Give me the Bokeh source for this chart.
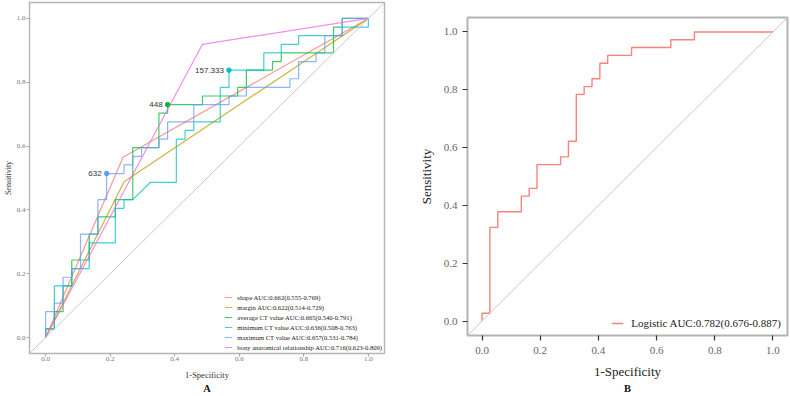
from bokeh.plotting import figure
from bokeh.layouts import row, column
from bokeh.models import Range1d, Slope, Legend, LegendItem, LinearAxis, ColumnDataSource
from bokeh.embed import file_html
from bokeh.resources import INLINE
from bokeh.core.properties import value

# ---------------- Panel A: ROC curves of single CT features ----------------
shape_fpr = [0.0, 0.240, 1.0]
shape_tpr = [0.0, 0.565, 1.0]

margin_fpr = [0.0, 0.243, 1.0]
margin_tpr = [0.0, 0.488, 1.0]

avg_fpr = [0.0, 0.0, 0.027, 0.027, 0.054, 0.054, 0.081, 0.081, 0.135, 0.135,
           0.162, 0.162, 0.216, 0.216, 0.270, 0.270, 0.351, 0.351, 0.378, 0.378,
           0.486, 0.486, 0.595, 0.595, 0.622, 0.622, 0.703, 0.703, 0.730, 0.730,
           0.892, 0.892, 0.919, 0.919, 1.0]
avg_tpr = [0.0, 0.027, 0.027, 0.081, 0.081, 0.162, 0.162, 0.243, 0.243, 0.324,
           0.324, 0.378, 0.378, 0.432, 0.432, 0.595, 0.595, 0.703, 0.703, 0.730,
           0.730, 0.757, 0.757, 0.784, 0.784, 0.838, 0.838, 0.865, 0.865, 0.892,
           0.892, 0.973, 0.973, 1.0, 1.0]

min_fpr = [0.0, 0.0, 0.027, 0.027, 0.081, 0.081, 0.135, 0.135, 0.216, 0.216,
           0.243, 0.243, 0.270, 0.324, 0.405, 0.405, 0.432, 0.432, 0.459, 0.459,
           0.541, 0.541, 0.568, 0.568, 0.676, 0.676, 0.730, 0.730, 0.784, 0.784,
           0.919, 0.919, 1.0, 1.0]
min_tpr = [0.0, 0.027, 0.027, 0.162, 0.162, 0.216, 0.216, 0.297, 0.297, 0.405,
           0.405, 0.432, 0.432, 0.486, 0.486, 0.622, 0.622, 0.649, 0.649, 0.676,
           0.676, 0.784, 0.784, 0.838, 0.838, 0.892, 0.892, 0.919, 0.919, 0.946,
           0.946, 0.973, 0.973, 1.0]

max_fpr = [0.0, 0.0, 0.027, 0.027, 0.054, 0.054, 0.081, 0.081, 0.108, 0.108,
           0.162, 0.162, 0.189, 0.189, 0.243, 0.243, 0.270, 0.270, 0.297, 0.297,
           0.351, 0.351, 0.378, 0.378, 0.459, 0.459, 0.568, 0.568, 0.622, 0.622,
           0.757, 0.757, 0.784, 0.784, 0.838, 0.838, 0.865, 0.865, 0.919, 0.919, 1.0]
max_tpr = [0.0, 0.081, 0.081, 0.108, 0.108, 0.189, 0.189, 0.216, 0.216, 0.324,
           0.324, 0.432, 0.432, 0.514, 0.514, 0.541, 0.541, 0.568, 0.568, 0.595,
           0.595, 0.622, 0.622, 0.676, 0.676, 0.730, 0.730, 0.757, 0.757, 0.784,
           0.784, 0.811, 0.811, 0.865, 0.865, 0.892, 0.892, 0.946, 0.946, 1.0, 1.0]

bony_fpr = [0.0, 0.486, 1.0]
bony_tpr = [0.0, 0.919, 1.0]

series_labels = [
    "shape AUC:0.662(0.555-0.769)",
    "margin AUC:0.622(0.514-0.729)",
    "average CT value AUC:0.665(0.540-0.791)",
    "minimum CT value AUC:0.636(0.508-0.763)",
    "maximum CT value AUC:0.657(0.531-0.784)",
    "bony anatomical relationship AUC:0.716(0.623-0.809)",
]
series_colors = ["#F8766D", "#B79F00", "#00BA38", "#00BFC4", "#619CFF", "#F564E3"]

# best cut-off points (max CT, average CT, minimum CT)
cut_fpr = [0.189, 0.378, 0.568]
cut_tpr = [0.514, 0.730, 0.838]
cut_text = ["632", "448", "157.333"]
cut_colors = ["#619CFF", "#00BA38", "#00BFC4"]

# ---------------- Panel B: combined logistic model ----------------
logit_fpr = [0.0, 0.0, 0.027, 0.027, 0.054, 0.054, 0.135, 0.135, 0.162, 0.162,
             0.189, 0.189, 0.270, 0.270, 0.297, 0.297, 0.324, 0.324, 0.351, 0.351,
             0.378, 0.378, 0.405, 0.405, 0.432, 0.432, 0.514, 0.514, 0.649, 0.649,
             0.730, 0.730, 1.0]
logit_tpr = [0.0, 0.027, 0.027, 0.324, 0.324, 0.378, 0.378, 0.432, 0.432, 0.459,
             0.459, 0.541, 0.541, 0.568, 0.568, 0.622, 0.622, 0.784, 0.784, 0.811,
             0.811, 0.838, 0.838, 0.892, 0.892, 0.919, 0.919, 0.946, 0.946, 0.973,
             0.973, 1.0, 1.0]
logit_label = "Logistic AUC:0.782(0.676-0.887)"
logit_color = "#F8766D"

ticks = [0.0, 0.2, 0.4, 0.6, 0.8, 1.0]
SERIF = "Liberation Serif"


def style_axis(ax, tick_size, tick_color, tick_out, tick_line, label_size,
               label_std, axis_label_std, axis_label_color, label_lh=1.0):
    ax.ticker = ticks
    ax.major_label_overrides = {t: f"{t:.1f}" for t in ticks}
    ax.axis_line_color = None
    ax.minor_tick_line_color = None
    ax.major_tick_in = 0
    ax.major_tick_out = tick_out
    ax.major_tick_line_color = tick_line
    ax.major_tick_line_width = 1.2
    ax.major_label_text_font = SERIF
    ax.major_label_text_font_size = tick_size
    ax.major_label_text_color = tick_color
    ax.major_label_standoff = label_std
    ax.axis_label_text_font = SERIF
    ax.axis_label_text_font_size = label_size
    ax.axis_label_text_font_style = "normal"
    ax.axis_label_text_color = axis_label_color
    ax.axis_label_standoff = axis_label_std
    ax.axis_label_text_line_height = label_lh


def panel_tag_axis(text, standoff):
    # tick-less axis whose only content is the bold panel letter under the x title
    return LinearAxis(ticker=[], axis_label=text, axis_line_color=None,
                      major_tick_in=0, major_tick_out=0, minor_tick_line_color=None,
                      major_label_standoff=0, major_label_text_font_size="0px",
                      axis_label_standoff=standoff, axis_label_text_font=SERIF,
                      axis_label_text_font_size="10.5px",
                      axis_label_text_font_style="bold",
                      axis_label_text_color="#111111",
                      axis_label_text_line_height=0.5)


# ---------- figure A ----------
pA = figure(width=400, height=396, title=None,
            x_range=Range1d(-0.05, 1.05), y_range=Range1d(-0.05, 1.05),
            output_backend="svg", toolbar_location=None,
            min_border_left=29, min_border_right=16, min_border_top=2,
            min_border_bottom=38,
            x_axis_label="1-Specificity", y_axis_label="Sensitivity")
pA.outline_line_color = "#b4b4b4"
pA.outline_line_width = 1.4
pA.xgrid.grid_line_color = None
pA.ygrid.grid_line_color = None
style_axis(pA.xaxis[0], "7px", "#777777", 3, "#aaaaaa", "8.5px", 0, 6, "#333333", 0.9)
style_axis(pA.yaxis[0], "7px", "#777777", 3, "#aaaaaa", "8px", 1, 1, "#333333", 0.9)

pA.add_layout(Slope(gradient=1, y_intercept=0, line_color="#c8c8c8", line_width=1))

curves_a = [(shape_fpr, shape_tpr), (margin_fpr, margin_tpr), (avg_fpr, avg_tpr),
            (min_fpr, min_tpr), (max_fpr, max_tpr), (bony_fpr, bony_tpr)]
items = []
for (fx, fy), lab, col in zip(curves_a, series_labels, series_colors):
    r = pA.line(fx, fy, line_color=col, line_width=1.2, line_alpha=0.75)
    items.append(LegendItem(label=lab, renderers=[r]))

cut_src = ColumnDataSource(dict(x=cut_fpr, y=cut_tpr, t=cut_text, c=cut_colors))
pA.scatter("x", "y", source=cut_src, size=4.5, fill_color="c", line_color="c")
pA.text("x", "y", text="t", source=cut_src, x_offset=-5, text_align="right",
        text_baseline="middle", text_font=value("Liberation Sans"),
        text_font_size="8px", text_color="#333333")

legA = Legend(items=items, location="bottom_right", margin=2, padding=2,
              spacing=2, label_height=8, glyph_height=6, glyph_width=8,
              label_standoff=5, label_text_font=SERIF, label_text_font_size="6.6px",
              label_text_color="#222222", border_line_color=None,
              background_fill_alpha=0)
pA.add_layout(legA)
pA.add_layout(panel_tag_axis("A", 0), "below")

# ---------- figure B ----------
pB = figure(width=390, height=396, title=None,
            x_range=Range1d(-0.05, 1.05), y_range=Range1d(-0.05, 1.05),
            output_backend="svg", toolbar_location=None,
            min_border_left=67, min_border_right=3, min_border_top=17,
            min_border_bottom=56,
            x_axis_label="1-Specificity", y_axis_label="Sensitivity")
pB.outline_line_color = "#b4b4b4"
pB.outline_line_width = 2
pB.xgrid.grid_line_color = None
pB.ygrid.grid_line_color = None
style_axis(pB.xaxis[0], "11px", "#666666", 5, "#333333", "13px", 6, 7, "#222222", 1.0)
style_axis(pB.yaxis[0], "11px", "#666666", 5, "#333333", "13px", 5, 7, "#222222", 1.0)

pB.add_layout(Slope(gradient=1, y_intercept=0, line_color="#c8c8c8", line_width=1))
rB = pB.line(logit_fpr, logit_tpr, line_color=logit_color, line_width=1.4, line_alpha=0.9)

legB = Legend(items=[LegendItem(label=logit_label, renderers=[rB])],
              location="bottom_right", margin=6, padding=2, spacing=0,
              label_height=12, glyph_height=10, glyph_width=12, label_standoff=8,
              label_text_font=SERIF, label_text_font_size="11px",
              label_text_color="#222222", border_line_color=None,
              background_fill_alpha=0)
pB.add_layout(legB)
pB.add_layout(panel_tag_axis("B", 1), "below")

# each panel sits in its own column so the two plot frames are laid out independently
layout = row(column(pA), column(pB))
open("out.html", "w").write(file_html(layout, INLINE))
